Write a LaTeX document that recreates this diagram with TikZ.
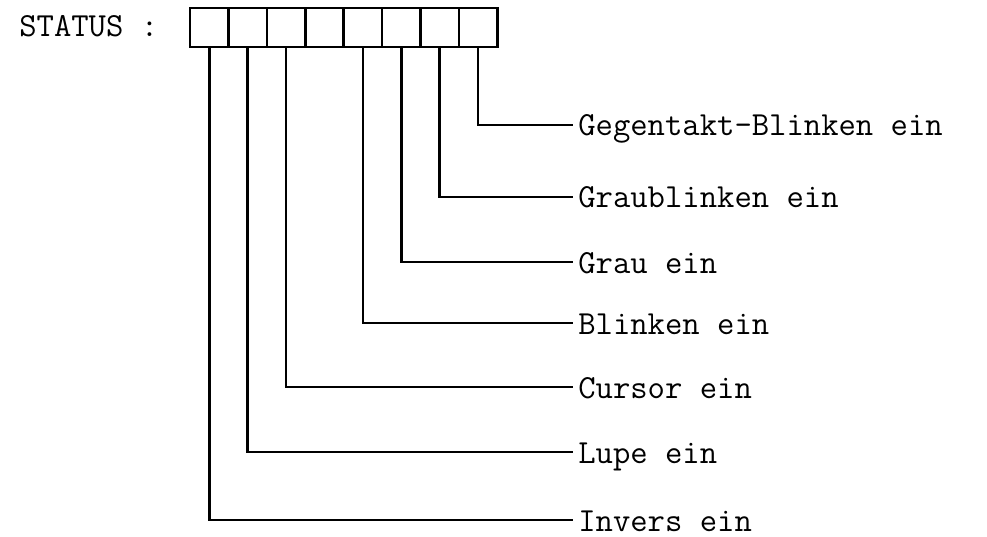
\documentclass[tikz,border=0pt]{standalone}
\usepackage{fontspec}
\begin{document}
\begin{tikzpicture}[x=1pt, y=-1pt, line width=2.6pt,
  cell/.style={draw, minimum width=38.4pt, minimum height=39pt, inner sep=0pt},
  flag/.style={anchor=west, inner sep=0pt, text height=22pt, text depth=0pt, font=\ttfamily\fontsize{33.7}{40}\selectfont},
  lead/.style={shorten >=4pt}]
\useasboundingbox (0,0) rectangle (987,537);

\node (status) at (18,37) [anchor=base west, inner sep=0pt, font=\ttfamily\fontsize{33.7}{40}\selectfont] {STATUS :};

\node (c1) at (209.2,27.5) [cell] {};
\node (c2) at (247.6,27.5) [cell] {};
\node (c3) at (286.0,27.5) [cell] {};
\node (c4) at (324.4,27.5) [cell] {};
\node (c5) at (362.8,27.5) [cell] {};
\node (c6) at (401.2,27.5) [cell] {};
\node (c7) at (439.6,27.5) [cell] {};
\node (c8) at (478.0,27.5) [cell] {};

\node (gegen) at (577,125) [flag] {Gegentakt-Blinken ein};
\node (graubl) at (577,197) [flag] {Graublinken ein};
\node (grau) at (577,262) [flag] {Grau ein};
\node (blink) at (577,323) [flag] {Blinken ein};
\node (cursor) at (577,387) [flag] {Cursor ein};
\node (lupe) at (577,452) [flag] {Lupe ein};
\node (invers) at (577,520) [flag] {Invers ein};

\draw[lead] (c8.south) |- (gegen.west);
\draw[lead] (c7.south) |- (graubl.west);
\draw[lead] (c6.south) |- (grau.west);
\draw[lead] (c5.south) |- (blink.west);
\draw[lead] (c3.south) |- (cursor.west);
\draw[lead] (c2.south) |- (lupe.west);
\draw[lead] (c1.south) |- (invers.west);
\end{tikzpicture}
\end{document}
